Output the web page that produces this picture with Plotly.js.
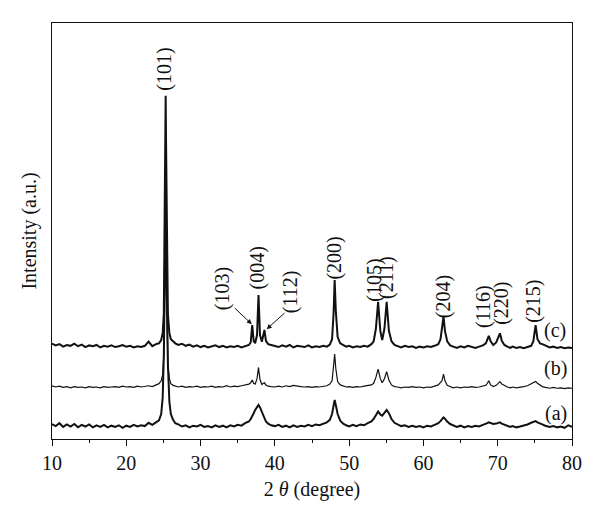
<!DOCTYPE html>
<html lang="en">
<head>
    <meta charset="UTF-8">
    <title>XRD patterns</title>
    <script src="https://cdn.plot.ly/plotly-3.0.1.min.js"></script>
    <style>
        body { margin: 0; background: white; }
        #plot { width: 600px; height: 523px; }
    </style>
</head>
<body>
    <div id="plot"></div>

    <script>
        // 2-theta grid (degree), rows follow the peak regions
        const twoTheta = [
            10, 10.5, 11, 11.5, 12, 12.5, 13, 13.5, 14, 14.5, 15, 15.5, 16, 16.5, 17, 17.5, 18, 18.5, 19, 19.5, 20, 20.5, 21, 21.5, 22, 22.5, 23, 23.5, 24,
            24.4, 24.7, 24.9, 25.05, 25.15, 25.25, 25.3, 25.35, 25.45, 25.6, 25.8, 26.0, 26.3, 26.6,
            27, 27.5, 28, 28.5, 29, 29.5, 30, 30.5, 31, 31.5, 32, 32.5, 33, 33.5, 34, 34.5, 35, 35.5, 36, 36.5,
            36.75, 36.95, 37.15, 37.35, 37.6, 37.8, 38.0, 38.25, 38.45, 38.6, 38.8, 39.1, 39.5,
            40, 40.5, 41, 41.5, 42, 42.5, 43, 43.5, 44, 44.5, 45, 45.5, 46, 46.5, 47, 47.4,
            47.7, 47.9, 48.05, 48.2, 48.45, 48.8, 49.2,
            49.6, 50, 50.5, 51, 51.5, 52, 52.5, 53,
            53.3, 53.6, 53.9, 54.2, 54.45, 54.75, 55.05, 55.35, 55.7, 56.1,
            56.5, 57, 57.5, 58, 58.5, 59, 59.5, 60, 60.5, 61, 61.5, 62,
            62.3, 62.5, 62.7, 62.9, 63.2, 63.6,
            64, 64.5, 65, 65.5, 66, 66.5, 67, 67.5, 68,
            68.4, 68.6, 68.8, 69.05, 69.4, 69.8, 70.1, 70.3, 70.55, 70.9, 71.3,
            71.7, 72, 72.5, 73, 73.5, 74, 74.5,
            74.8, 75.1, 75.35, 75.7, 76.0,
            76.4, 77, 77.5, 78, 78.5, 79, 79.5, 80
        ];

        // sample (a), offset intensity
        const intensityA = [
            3.6, 3.1, 3.8, 2.9, 3.5, 3.0, 3.6, 2.8, 3.4, 3.0, 3.5, 2.8, 3.3, 2.9, 3.4, 2.8, 3.2, 2.9, 3.3, 2.7, 3.2, 2.9, 3.4, 3.0, 3.3, 3.1, 3.9, 3.4, 4.0,
            4.5, 6.0, 10, 20, 35, 52, 56, 50, 34, 18, 9, 6.0, 4.6, 3.8,
            3.5, 3.0, 3.3, 2.8, 3.2, 3.0, 3.4, 2.9, 3.1, 2.8, 3.3, 2.9, 3.2, 2.8, 3.3, 3.0, 3.4, 3.2, 3.8, 4.2,
            4.8, 5.4, 6.2, 7.0, 7.8, 8.2, 7.6, 6.4, 5.4, 4.8, 4.2, 3.7, 3.3,
            3.1, 3.4, 2.9, 3.2, 2.8, 3.3, 2.9, 3.2, 3.0, 3.4, 3.1, 3.5, 3.3, 3.7, 4.0, 4.6,
            6.0, 8.0, 9.4, 8.2, 6.0, 4.4, 3.7,
            3.3, 3.0, 3.4, 3.1, 3.5, 3.3, 3.8, 4.2,
            4.8, 5.8, 6.6, 5.9, 5.6, 6.3, 7.0, 6.2, 4.8, 3.9,
            3.5, 3.1, 3.3, 2.9, 3.2, 2.9, 3.1, 2.8, 3.2, 3.0, 3.4, 3.8,
            4.3, 4.8, 5.2, 4.9, 4.2, 3.6,
            3.2, 2.9, 3.2, 2.8, 3.1, 2.9, 3.2, 3.0, 3.4,
            3.6, 3.8, 4.0, 3.8, 3.6, 3.7, 3.9, 4.0, 3.7, 3.4, 3.2,
            2.9, 3.1, 2.8, 3.0, 3.2, 3.5, 3.9,
            4.1, 4.3, 4.0, 3.8, 3.5,
            3.2, 2.9, 3.1, 2.8, 3.0, 2.7, 3.3, 2.9
        ];

        // sample (b)
        const intensityB = [
            12.8, 12.5, 12.7, 12.4, 12.6, 12.3, 12.6, 12.4, 12.5, 12.3, 12.6, 12.4, 12.5, 12.3, 12.6, 12.4, 12.5, 12.6, 12.4, 12.7, 12.5, 12.6, 12.4, 12.7, 12.5, 12.6, 12.8, 12.6, 12.9,
            13.3, 14.0, 15.5, 20, 30, 42, 48, 40, 28, 18, 14.5, 13.3, 12.9, 12.7,
            12.5, 12.7, 12.4, 12.6, 12.5, 12.7, 12.4, 12.6, 12.5, 12.7, 12.4, 12.6, 12.5, 12.8, 12.5, 12.7, 12.6, 12.8, 13.0, 13.2,
            13.5, 14.2, 13.4, 13.2, 14.5, 17.2, 14.3, 13.1, 13.4, 13.5, 13.0, 12.7, 12.6,
            12.5, 12.7, 12.5, 12.8, 12.6, 12.9, 12.7, 12.6, 12.5, 12.6, 12.4, 12.6, 12.5, 12.7, 12.8, 13.2,
            14.0, 17.5, 20.4, 17.0, 13.8, 13.0, 12.7,
            12.5, 12.6, 12.4, 12.6, 12.5, 12.7, 12.8, 13.0,
            13.4, 14.8, 16.8, 14.5, 13.5, 14.5, 16.2, 14.2, 13.0, 12.6,
            12.5, 12.3, 12.5, 12.4, 12.6, 12.4, 12.5, 12.3, 12.5, 12.4, 12.7, 13.0,
            13.6, 14.0, 15.6, 14.0, 12.9, 12.5,
            12.3, 12.5, 12.3, 12.5, 12.4, 12.6, 12.4, 12.5, 12.7,
            12.9, 13.4, 14.0, 13.0, 12.6, 12.9, 13.4, 13.8, 13.2, 12.8, 12.5,
            12.3, 12.5, 12.3, 12.4, 12.6, 12.8, 13.2,
            13.5, 13.8, 13.4, 12.9, 12.6,
            12.4, 12.2, 12.4, 12.2, 12.3, 12.1, 12.3, 12.2
        ];

        // sample (c)
        const intensityC = [
            22.9, 22.5, 22.8, 22.2, 22.6, 22.4, 22.9, 22.3, 22.7, 22.1, 22.5, 22.3, 22.6, 22.0, 22.4, 22.2, 22.5, 22.1, 22.3, 22.6, 22.2, 22.4, 22.0, 22.3, 22.1, 22.4, 23.4, 22.3, 22.8,
            23.0, 23.8, 25.5, 30, 45, 70, 82.5, 72, 46, 30, 25.5, 24.0, 23.5, 23.0,
            22.6, 22.9, 22.4, 22.7, 22.2, 22.5, 22.1, 22.4, 22.0, 22.3, 22.5, 22.1, 22.4, 22.0, 22.3, 22.1, 22.4, 22.0, 22.3, 22.6,
            23.2, 27.4, 23.6, 23.0, 25.0, 34.6, 25.0, 23.4, 25.0, 26.2, 23.6, 22.8, 22.6,
            22.4, 22.1, 22.5, 22.2, 22.6, 22.0, 22.4, 22.2, 22.1, 22.5, 22.0, 22.3, 22.1, 22.4, 22.2, 22.7,
            24.0, 30.0, 38.2, 31.0, 24.5, 23.0, 22.5,
            22.2, 22.4, 22.0, 22.3, 22.1, 22.4, 22.2, 22.8,
            23.5, 26.5, 33.0, 26.0, 23.8, 26.5, 33.0, 26.0, 23.5, 22.6,
            22.3, 22.0, 22.4, 22.1, 22.3, 21.9, 22.2, 22.0, 22.3, 22.1, 22.4, 22.8,
            24.0, 26.5, 29.4, 26.0, 23.5, 22.5,
            22.2, 21.9, 22.3, 22.0, 22.4, 22.1, 21.9, 22.2, 22.5,
            23.0, 24.2, 24.8, 23.5, 22.6, 23.2, 24.6, 25.4, 23.6, 22.6, 22.2,
            21.9, 22.2, 21.9, 22.1, 21.8, 22.1, 22.4,
            23.5, 27.4, 24.0, 23.0, 22.8,
            22.4, 22.0, 22.2, 21.9, 22.1, 21.8, 22.0, 21.9
        ];

        // Miller index labels
        const hklLabels = ['(101)', '(103)', '(004)', '(112)', '(200)', '(105)', '(211)', '(204)', '(116)', '(220)', '(215)'];
        const hklX = [25.2, 33.0, 37.6, 42.1, 47.9, 53.3, 55.0, 62.7, 68.05, 70.5, 74.9];
        const hklY = [89.0, 36.2, 41.0, 35.4, 43.5, 38.2, 38.8, 34.2, 31.8, 32.6, 33.0];

        const sampleLabels = ['(a)', '(b)', '(c)'];
        const sampleLabelX = [77.9, 77.8, 77.7];
        const sampleLabelY = [6.2, 17.0, 26.2];

        const serif = '"Liberation Serif", "DejaVu Serif", serif';

        function trace(y, w) {
            return {
                x: twoTheta, y: y, type: 'scatter', mode: 'lines',
                line: { color: '#111', width: w },
                showlegend: false, hoverinfo: 'skip'
            };
        }

        const annotations = [];
        hklLabels.forEach((t, i) => {
            annotations.push({
                x: hklX[i], y: hklY[i], xref: 'x', yref: 'y', text: t,
                showarrow: false, textangle: -90,
                font: { family: serif, size: 20, color: '#111' }
            });
        });
        sampleLabels.forEach((t, i) => {
            annotations.push({
                x: sampleLabelX[i], y: sampleLabelY[i], xref: 'x', yref: 'y', text: t,
                showarrow: false, font: { family: serif, size: 20, color: '#111' }
            });
        });
        // arrows pointing at (103) and (112)
        annotations.push({
            x: 36.9, y: 27.6, ax: 34.4, ay: 31.8, xref: 'x', yref: 'y', axref: 'x', ayref: 'y',
            text: '', showarrow: true, arrowhead: 2, arrowsize: 1, arrowwidth: 1, arrowcolor: '#111'
        });
        annotations.push({
            x: 38.9, y: 26.4, ax: 41.5, ay: 30.6, xref: 'x', yref: 'y', axref: 'x', ayref: 'y',
            text: '', showarrow: true, arrowhead: 2, arrowsize: 1, arrowwidth: 1, arrowcolor: '#111'
        });

        const layout = {
            width: 600, height: 523,
            margin: { l: 52, r: 28, t: 23, b: 84 },
            paper_bgcolor: 'white', plot_bgcolor: 'white',
            font: { family: serif, size: 20, color: '#111' },
            xaxis: {
                range: [10, 80], dtick: 10, ticks: 'outside', ticklen: 6, tickwidth: 1,
                tickcolor: '#111', showline: true, linecolor: '#111', linewidth: 1.2,
                mirror: true, showgrid: false, zeroline: false,
                minor: { dtick: 5, ticks: 'outside', ticklen: 3, tickcolor: '#111' },
                tickfont: { family: serif, size: 20 },
                title: { text: '2 <i>θ</i> (degree)', font: { family: serif, size: 20 }, standoff: 8 }
            },
            yaxis: {
                range: [0, 100], showticklabels: false, ticks: '', showline: true,
                linecolor: '#111', linewidth: 1.2, mirror: true, showgrid: false, zeroline: false,
                title: { text: 'Intensity (a.u.)', font: { family: serif, size: 20 }, standoff: 8 }
            },
            annotations: annotations
        };

        Plotly.newPlot('plot', [trace(intensityA, 2.0), trace(intensityB, 1.2), trace(intensityC, 2.0)], layout, {
            displayModeBar: false
        });
    </script>
</body>
</html>
